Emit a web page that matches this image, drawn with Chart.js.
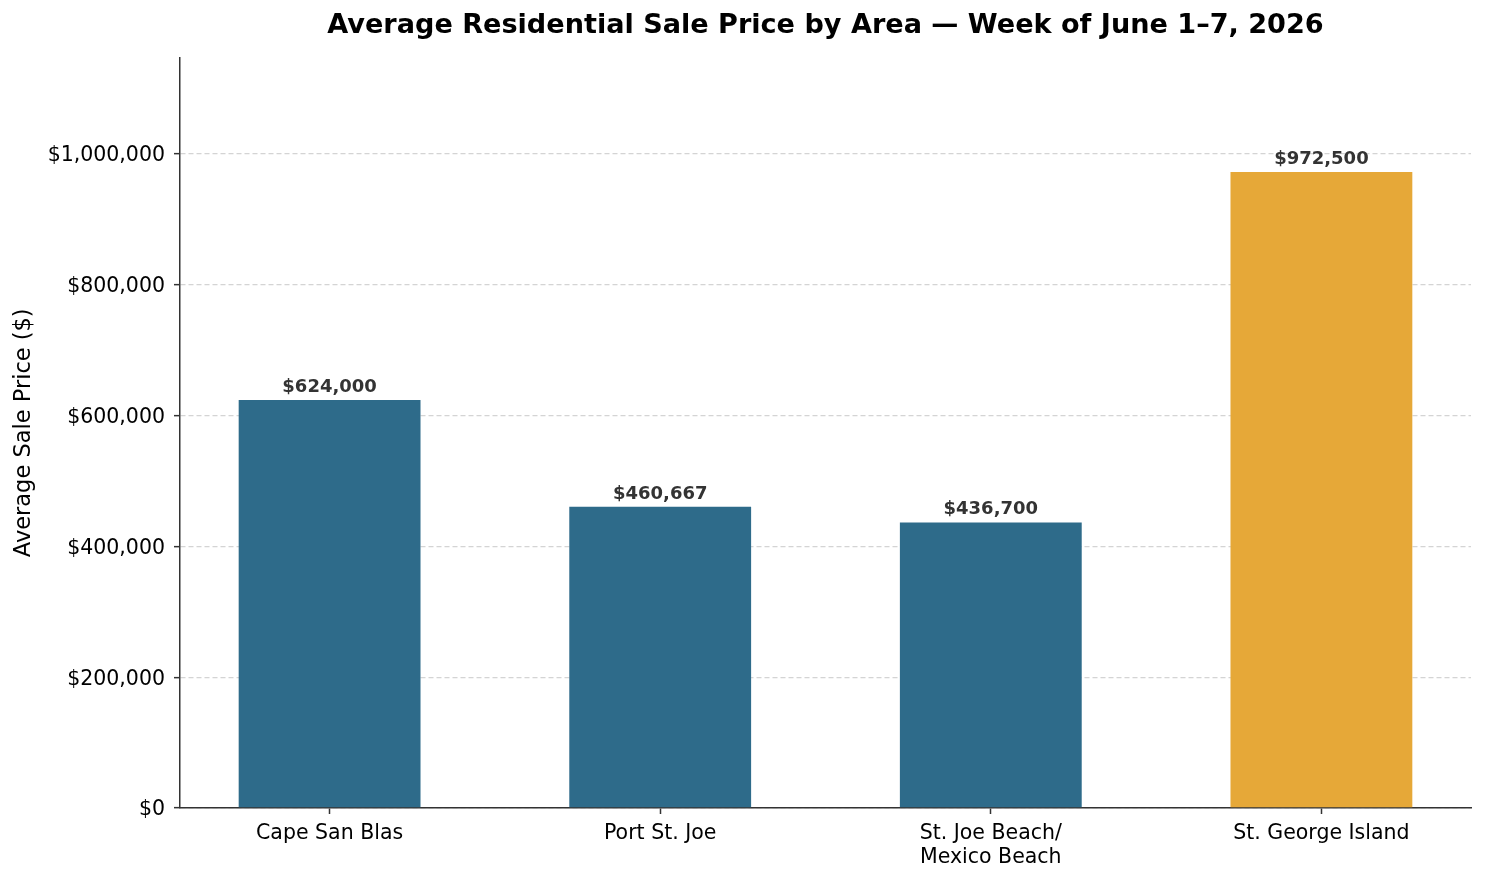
<!DOCTYPE html>
<html>
<head>
<meta charset="utf-8">
<script src="https://cdn.jsdelivr.net/npm/chart.js@4/dist/chart.umd.min.js"></script>
<style>
  html, body { margin: 0; padding: 0; background: #ffffff; }
  #wrap { width: 1486px; height: 881px; position: relative; }
</style>
</head>
<body>
<div id="wrap"><canvas id="c"></canvas></div>
<script>
const titleText = 'Average Residential Sale Price by Area \u2014 Week of June 1\u20137, 2026';
const yAxisTitle = 'Average Sale Price ($)';
const categories = ['Cape San Blas', 'Port St. Joe', ['St. Joe Beach/', 'Mexico Beach'], 'St. George Island'];
const prices = [624000, 460667, 436700, 972500];
const yTickValues = [0, 200000, 400000, 600000, 800000, 1000000];
const barColors = ['#2E6B8A', '#2E6B8A', '#2E6B8A', '#E6A838'];

const FONT = "'DejaVu Sans', 'Liberation Sans', sans-serif";
const money = v => '$' + Math.round(v).toLocaleString('en-US');

const valueLabels = {
  id: 'valueLabels',
  afterDatasetsDraw(chart) {
    const ctx = chart.ctx;
    const meta = chart.getDatasetMeta(0);
    ctx.save();
    ctx.font = "bold 18px " + FONT;
    ctx.fillStyle = '#333333';
    ctx.textAlign = 'center';
    ctx.textBaseline = 'alphabetic';
    meta.data.forEach((bar, i) => {
      ctx.fillText(money(prices[i]), bar.x, bar.y - 8);
    });
    ctx.restore();
  }
};

new Chart(document.getElementById('c'), {
  type: 'bar',
  data: {
    datasets: [{
      data: prices.map((v, i) => ({ x: i, y: v })),
      backgroundColor: barColors,
      borderWidth: 0,
      categoryPercentage: 0.55,
      barPercentage: 1.0
    }]
  },
  options: {
    responsive: true,
    maintainAspectRatio: false,
    animation: false,
    devicePixelRatio: 1,
    layout: { padding: { left: 0, right: 15, top: 0, bottom: 0 } },
    plugins: {
      legend: { display: false },
      tooltip: { enabled: false },
      title: {
        display: true,
        text: titleText,
        fullSize: false,
        color: '#000000',
        font: { family: FONT, size: 27.1, weight: 'bold', lineHeight: 1.2 },
        padding: { top: 10, bottom: 15 }
      }
    },
    scales: {
      x: {
        type: 'linear',
        bounds: 'data',
        offset: false,
        min: -0.4525,
        max: 3.4525,
        afterBuildTicks: s => { s.ticks = categories.map((c, i) => ({ value: i })); },
        afterFit: s => { s.height = 73; },
        ticks: {
          callback: v => categories[v],
          color: '#000000',
          font: { family: FONT, size: 20.5, lineHeight: 1.17 },
          padding: 8,
          maxRotation: 0,
          autoSkip: false
        },
        grid: {
          offset: false,
          drawOnChartArea: false,
          drawTicks: true,
          tickLength: 6,
          tickColor: '#333333',
          tickWidth: 1.5
        },
        border: { display: true, color: '#333333', width: 1.5 }
      },
      y: {
        type: 'linear',
        bounds: 'data',
        min: 0,
        max: 1147550,
        afterBuildTicks: s => { s.ticks = yTickValues.map(v => ({ value: v })); },
        afterFit: s => { s.width = 180; },
        ticks: {
          callback: v => money(v),
          color: '#000000',
          font: { family: FONT, size: 20.5 },
          padding: 9,
          labelOffset: 2
        },
        grid: {
          color: '#d4d4d4',
          lineWidth: 1.3,
          drawTicks: true,
          tickLength: 6,
          tickColor: '#333333',
          tickWidth: 1.5,
          tickBorderDash: []
        },
        border: { display: true, color: '#333333', width: 1.5, dash: [5, 3] },
        title: {
          display: true,
          text: yAxisTitle,
          color: '#000000',
          font: { family: FONT, size: 22.5 },
          padding: { top: 11, bottom: 0 }
        }
      }
    }
  },
  plugins: [valueLabels]
});
</script>
</body>
</html>
